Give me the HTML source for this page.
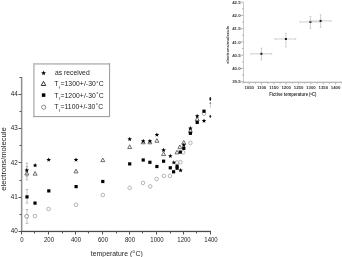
<!DOCTYPE html>
<html><head><meta charset="utf-8"><style>
html,body{margin:0;padding:0;background:#fff;width:342px;height:257px;overflow:hidden}
svg{display:block;will-change:transform}
text{font-family:"Liberation Sans", sans-serif;fill:#222}
.tk{font-size:6px}
.at{font-size:6.9px}
.at2{font-size:7.6px}
.lg{font-size:6.8px}
.it{font-size:4.3px;font-weight:bold;fill:#333}
.ib{font-size:4.2px;font-weight:bold;fill:#333}
</style></head><body>
<svg width="342" height="257" viewBox="0 0 342 257">
<rect x="20.9" y="77" width="1.5" height="155" fill="#909090"/>
<rect x="21" y="230.8" width="190" height="1.3" fill="#4a4a4a"/>
<line x1="18.5" y1="231.5" x2="21.5" y2="231.5" stroke="#555"/>
<text x="17.8" y="233.1" text-anchor="end" class="tk" style="font-size:6.3px">40</text>
<line x1="19.5" y1="214.5" x2="21.5" y2="214.5" stroke="#555"/>
<line x1="18.5" y1="197.5" x2="21.5" y2="197.5" stroke="#555"/>
<text x="17.8" y="198.8" text-anchor="end" class="tk" style="font-size:6.3px">41</text>
<line x1="19.5" y1="180.5" x2="21.5" y2="180.5" stroke="#555"/>
<line x1="18.5" y1="162.5" x2="21.5" y2="162.5" stroke="#555"/>
<text x="17.8" y="164.6" text-anchor="end" class="tk" style="font-size:6.3px">42</text>
<line x1="19.5" y1="145.5" x2="21.5" y2="145.5" stroke="#555"/>
<line x1="18.5" y1="128.5" x2="21.5" y2="128.5" stroke="#555"/>
<text x="17.8" y="130.3" text-anchor="end" class="tk" style="font-size:6.3px">43</text>
<line x1="19.5" y1="111.5" x2="21.5" y2="111.5" stroke="#555"/>
<line x1="18.5" y1="94.5" x2="21.5" y2="94.5" stroke="#555"/>
<text x="17.8" y="96.1" text-anchor="end" class="tk" style="font-size:6.3px">44</text>
<line x1="19.5" y1="77.5" x2="21.5" y2="77.5" stroke="#555"/>
<line x1="21.5" y1="231.5" x2="21.5" y2="234.5" stroke="#555"/>
<text transform="translate(22.0,241.9) scale(1,1.18)" text-anchor="middle" class="tk">0</text>
<line x1="34.5" y1="231.5" x2="34.5" y2="233.5" stroke="#555"/>
<line x1="48.5" y1="231.5" x2="48.5" y2="234.5" stroke="#555"/>
<text transform="translate(49.0,241.9) scale(1,1.18)" text-anchor="middle" class="tk">200</text>
<line x1="62.5" y1="231.5" x2="62.5" y2="233.5" stroke="#555"/>
<line x1="75.5" y1="231.5" x2="75.5" y2="234.5" stroke="#555"/>
<text transform="translate(76.0,241.9) scale(1,1.18)" text-anchor="middle" class="tk">400</text>
<line x1="88.5" y1="231.5" x2="88.5" y2="233.5" stroke="#555"/>
<line x1="102.5" y1="231.5" x2="102.5" y2="234.5" stroke="#555"/>
<text transform="translate(103.0,241.9) scale(1,1.18)" text-anchor="middle" class="tk">600</text>
<line x1="116.5" y1="231.5" x2="116.5" y2="233.5" stroke="#555"/>
<line x1="129.5" y1="231.5" x2="129.5" y2="234.5" stroke="#555"/>
<text transform="translate(130.0,241.9) scale(1,1.18)" text-anchor="middle" class="tk">800</text>
<line x1="142.5" y1="231.5" x2="142.5" y2="233.5" stroke="#555"/>
<line x1="156.5" y1="231.5" x2="156.5" y2="234.5" stroke="#555"/>
<text transform="translate(157.0,241.9) scale(1,1.18)" text-anchor="middle" class="tk">1000</text>
<line x1="170.5" y1="231.5" x2="170.5" y2="233.5" stroke="#555"/>
<line x1="183.5" y1="231.5" x2="183.5" y2="234.5" stroke="#555"/>
<text transform="translate(184.0,241.9) scale(1,1.18)" text-anchor="middle" class="tk">1200</text>
<line x1="196.5" y1="231.5" x2="196.5" y2="233.5" stroke="#555"/>
<line x1="210.5" y1="231.5" x2="210.5" y2="234.5" stroke="#555"/>
<text transform="translate(211.0,241.9) scale(1,1.18)" text-anchor="middle" class="tk">1400</text>
<text transform="translate(90.8,255.6) scale(1,1.1)" class="at">temperature (<tspan dx="0.2" dy="-2.6" font-size="4.2">o</tspan><tspan dx="0.7" dy="2.6">C)</tspan></text>
<text transform="translate(5.6,159.0) rotate(-90)" text-anchor="middle" class="at2">electrons/molecule</text>
<line x1="26.9" y1="163.2" x2="26.9" y2="176.8" stroke="#b0b0b0" stroke-width="0.7"/><line x1="25.599999999999998" y1="163.2" x2="28.2" y2="163.2" stroke="#b0b0b0" stroke-width="0.9"/><line x1="25.599999999999998" y1="176.8" x2="28.2" y2="176.8" stroke="#b0b0b0" stroke-width="0.9"/>
<line x1="26.9" y1="166.4" x2="26.9" y2="179.8" stroke="#b0b0b0" stroke-width="0.7"/><line x1="25.599999999999998" y1="166.4" x2="28.2" y2="166.4" stroke="#b0b0b0" stroke-width="0.9"/><line x1="25.599999999999998" y1="179.8" x2="28.2" y2="179.8" stroke="#b0b0b0" stroke-width="0.9"/>
<line x1="27.0" y1="189.4" x2="27.0" y2="203.0" stroke="#b0b0b0" stroke-width="0.7"/><line x1="25.7" y1="189.4" x2="28.3" y2="189.4" stroke="#b0b0b0" stroke-width="0.9"/><line x1="25.7" y1="203.0" x2="28.3" y2="203.0" stroke="#b0b0b0" stroke-width="0.9"/>
<line x1="27.0" y1="209.6" x2="27.0" y2="223.3" stroke="#b0b0b0" stroke-width="0.7"/><line x1="25.7" y1="209.6" x2="28.3" y2="209.6" stroke="#b0b0b0" stroke-width="0.9"/><line x1="25.7" y1="223.3" x2="28.3" y2="223.3" stroke="#b0b0b0" stroke-width="0.9"/>
<circle cx="35.00" cy="216.10" r="1.8" fill="none" stroke="#a8a8a8" stroke-width="0.85"/>
<circle cx="48.60" cy="209.00" r="1.8" fill="none" stroke="#a8a8a8" stroke-width="0.85"/>
<circle cx="76.10" cy="204.80" r="1.8" fill="none" stroke="#a8a8a8" stroke-width="0.85"/>
<circle cx="102.80" cy="195.00" r="1.8" fill="none" stroke="#a8a8a8" stroke-width="0.85"/>
<circle cx="129.70" cy="187.80" r="1.8" fill="none" stroke="#a8a8a8" stroke-width="0.85"/>
<circle cx="143.00" cy="182.90" r="1.8" fill="none" stroke="#a8a8a8" stroke-width="0.85"/>
<circle cx="150.20" cy="186.40" r="1.8" fill="none" stroke="#a8a8a8" stroke-width="0.85"/>
<circle cx="156.60" cy="179.00" r="1.8" fill="none" stroke="#a8a8a8" stroke-width="0.85"/>
<circle cx="163.80" cy="175.90" r="1.8" fill="none" stroke="#a8a8a8" stroke-width="0.85"/>
<circle cx="169.90" cy="175.90" r="1.8" fill="none" stroke="#a8a8a8" stroke-width="0.85"/>
<circle cx="177.10" cy="162.50" r="1.8" fill="none" stroke="#a8a8a8" stroke-width="0.85"/>
<circle cx="180.40" cy="162.20" r="1.8" fill="none" stroke="#a8a8a8" stroke-width="0.85"/>
<circle cx="183.20" cy="152.40" r="1.8" fill="none" stroke="#a8a8a8" stroke-width="0.85"/>
<circle cx="190.40" cy="142.90" r="1.8" fill="none" stroke="#a8a8a8" stroke-width="0.85"/>
<circle cx="204.00" cy="113.80" r="1.8" fill="none" stroke="#a8a8a8" stroke-width="0.85"/>
<circle cx="26.7" cy="216.3" r="1.9" fill="#fff" stroke="#888" stroke-width="0.9"/>
<polygon points="26.80,171.30 28.80,174.97 24.80,174.97" fill="none" stroke="#555" stroke-width="0.85"/>
<polygon points="35.10,171.50 37.09,175.17 33.11,175.17" fill="none" stroke="#555" stroke-width="0.85"/>
<polygon points="76.00,169.20 78.00,172.88 74.00,172.88" fill="none" stroke="#555" stroke-width="0.85"/>
<polygon points="102.80,158.00 104.80,161.67 100.80,161.67" fill="none" stroke="#555" stroke-width="0.85"/>
<polygon points="129.70,144.80 131.69,148.47 127.70,148.47" fill="none" stroke="#555" stroke-width="0.85"/>
<polygon points="143.20,140.10 145.19,143.77 141.20,143.77" fill="none" stroke="#555" stroke-width="0.85"/>
<polygon points="149.90,140.10 151.90,143.77 147.91,143.77" fill="none" stroke="#555" stroke-width="0.85"/>
<polygon points="156.90,138.60 158.90,142.27 154.91,142.27" fill="none" stroke="#555" stroke-width="0.85"/>
<polygon points="163.60,151.90 165.59,155.57 161.60,155.57" fill="none" stroke="#555" stroke-width="0.85"/>
<polygon points="177.00,150.20 179.00,153.88 175.00,153.88" fill="none" stroke="#555" stroke-width="0.85"/>
<polygon points="179.90,145.00 181.90,148.67 177.91,148.67" fill="none" stroke="#555" stroke-width="0.85"/>
<polygon points="183.80,140.40 185.80,144.07 181.81,144.07" fill="none" stroke="#555" stroke-width="0.85"/>
<polygon points="190.40,128.50 192.40,132.17 188.41,132.17" fill="none" stroke="#555" stroke-width="0.85"/>
<polygon points="197.20,117.10 199.19,120.78 195.20,120.78" fill="none" stroke="#555" stroke-width="0.85"/>
<rect x="25.40" y="195.30" width="3.2" height="3.2" fill="#000"/>
<rect x="33.40" y="201.50" width="3.2" height="3.2" fill="#000"/>
<rect x="47.20" y="189.30" width="3.2" height="3.2" fill="#000"/>
<rect x="74.50" y="185.00" width="3.2" height="3.2" fill="#000"/>
<rect x="101.20" y="179.90" width="3.2" height="3.2" fill="#000"/>
<rect x="128.10" y="162.30" width="3.2" height="3.2" fill="#000"/>
<rect x="141.60" y="158.40" width="3.2" height="3.2" fill="#000"/>
<rect x="148.30" y="160.70" width="3.2" height="3.2" fill="#000"/>
<rect x="155.30" y="164.90" width="3.2" height="3.2" fill="#000"/>
<rect x="162.00" y="159.60" width="3.2" height="3.2" fill="#000"/>
<rect x="168.70" y="166.20" width="3.2" height="3.2" fill="#000"/>
<rect x="172.00" y="170.20" width="3.2" height="3.2" fill="#000"/>
<rect x="175.50" y="164.60" width="3.2" height="3.2" fill="#000"/>
<rect x="175.50" y="166.60" width="3.2" height="3.2" fill="#000"/>
<rect x="178.70" y="150.50" width="3.2" height="3.2" fill="#000"/>
<rect x="182.20" y="146.70" width="3.2" height="3.2" fill="#000"/>
<rect x="188.80" y="131.70" width="3.2" height="3.2" fill="#000"/>
<rect x="195.60" y="120.80" width="3.2" height="3.2" fill="#000"/>
<rect x="202.40" y="109.60" width="3.2" height="3.2" fill="#000"/>
<polygon points="26.80,167.95 27.42,169.44 29.03,169.57 27.81,170.63 28.18,172.20 26.80,171.36 25.42,172.20 25.79,170.63 24.57,169.57 26.18,169.44" fill="#000"/>
<polygon points="35.10,163.05 35.72,164.54 37.33,164.67 36.11,165.73 36.48,167.30 35.10,166.46 33.72,167.30 34.09,165.73 32.87,164.67 34.48,164.54" fill="#000"/>
<polygon points="48.70,157.45 49.32,158.94 50.93,159.07 49.71,160.13 50.08,161.70 48.70,160.86 47.32,161.70 47.69,160.13 46.47,159.07 48.08,158.94" fill="#000"/>
<polygon points="76.00,157.45 76.62,158.94 78.23,159.07 77.01,160.13 77.38,161.70 76.00,160.86 74.62,161.70 74.99,160.13 73.77,159.07 75.38,158.94" fill="#000"/>
<polygon points="129.70,136.85 130.32,138.34 131.93,138.47 130.71,139.53 131.08,141.10 129.70,140.26 128.32,141.10 128.69,139.53 127.47,138.47 129.08,138.34" fill="#000"/>
<polygon points="143.20,138.85 143.82,140.34 145.43,140.47 144.21,141.53 144.58,143.10 143.20,142.26 141.82,143.10 142.19,141.53 140.97,140.47 142.58,140.34" fill="#000"/>
<polygon points="149.90,138.85 150.52,140.34 152.13,140.47 150.91,141.53 151.28,143.10 149.90,142.26 148.52,143.10 148.89,141.53 147.67,140.47 149.28,140.34" fill="#000"/>
<polygon points="156.90,132.45 157.52,133.94 159.13,134.07 157.91,135.13 158.28,136.70 156.90,135.86 155.52,136.70 155.89,135.13 154.67,134.07 156.28,133.94" fill="#000"/>
<polygon points="163.60,147.85 164.22,149.34 165.83,149.47 164.61,150.53 164.98,152.10 163.60,151.26 162.22,152.10 162.59,150.53 161.37,149.47 162.98,149.34" fill="#000"/>
<polygon points="170.30,153.65 170.92,155.14 172.53,155.27 171.31,156.33 171.68,157.90 170.30,157.06 168.92,157.90 169.29,156.33 168.07,155.27 169.68,155.14" fill="#000"/>
<polygon points="173.80,160.15 174.42,161.64 176.03,161.77 174.81,162.83 175.18,164.40 173.80,163.56 172.42,164.40 172.79,162.83 171.57,161.77 173.18,161.64" fill="#000"/>
<polygon points="180.60,168.05 181.22,169.54 182.83,169.67 181.61,170.73 181.98,172.30 180.60,171.46 179.22,172.30 179.59,170.73 178.37,169.67 179.98,169.54" fill="#000"/>
<polygon points="183.80,142.85 184.42,144.34 186.03,144.47 184.81,145.53 185.18,147.10 183.80,146.26 182.42,147.10 182.79,145.53 181.57,144.47 183.18,144.34" fill="#000"/>
<polygon points="190.40,126.05 191.02,127.54 192.63,127.67 191.41,128.73 191.78,130.30 190.40,129.46 189.02,130.30 189.39,128.73 188.17,127.67 189.78,127.54" fill="#000"/>
<polygon points="197.20,113.85 197.82,115.34 199.43,115.47 198.21,116.53 198.58,118.10 197.20,117.26 195.82,118.10 196.19,116.53 194.97,115.47 196.58,115.34" fill="#000"/>
<polygon points="204.00,118.55 204.62,120.04 206.23,120.17 205.01,121.23 205.38,122.80 204.00,121.96 202.62,122.80 202.99,121.23 201.77,120.17 203.38,120.04" fill="#000"/>
<ellipse cx="210.3" cy="98.9" rx="0.9" ry="1.9" fill="#111"/>
<ellipse cx="210.3" cy="103.2" rx="0.8" ry="0.9" fill="#777"/>
<line x1="210.3" y1="104" x2="210.3" y2="108" stroke="#ccc" stroke-width="1"/>
<ellipse cx="210.3" cy="116.4" rx="0.9" ry="1.4" fill="#222"/>
<rect x="33" y="63" width="77" height="1.8" fill="#c4c4c4"/>
<rect x="33" y="63" width="1.8" height="54" fill="#c4c4c4"/>
<rect x="109" y="63" width="1.1" height="54" fill="#a0a0a0"/>
<rect x="33" y="116" width="77" height="1.1" fill="#a0a0a0"/>
<polygon points="43.60,70.60 44.26,72.19 45.98,72.33 44.67,73.45 45.07,75.12 43.60,74.22 42.13,75.12 42.53,73.45 41.22,72.33 42.94,72.19" fill="#000"/>
<polygon points="43.50,81.30 45.78,85.50 41.22,85.50" fill="none" stroke="#333" stroke-width="1.0"/>
<rect x="41.85" y="93.35" width="3.5" height="3.5" fill="#000"/>
<circle cx="43.70" cy="107.20" r="2.1" fill="none" stroke="#888" stroke-width="1.0"/>
<text transform="translate(55.0,75.3) scale(1,1.1)" class="lg">as received</text>
<text x="54.3" y="86.2" class="lg">T<tspan dx="0.2" dy="2.8" font-size="3.8">f</tspan><tspan dx="0.9" dy="-2.8">=1300+</tspan><tspan dx="0.3">/-</tspan><tspan dx="0.1">30</tspan><tspan dx="0.4" dy="-1.6" font-size="5.6">°</tspan><tspan dx="0.3" dy="1.6">C</tspan></text>
<text x="54.3" y="97.6" class="lg">T<tspan dx="0.2" dy="2.8" font-size="3.8">f</tspan><tspan dx="0.9" dy="-2.8">=1200+</tspan><tspan dx="0.3">/-</tspan><tspan dx="0.1">30</tspan><tspan dx="0.4" dy="-1.6" font-size="5.6">°</tspan><tspan dx="0.3" dy="1.6">C</tspan></text>
<text x="54.3" y="108.89999999999999" class="lg">T<tspan dx="0.2" dy="2.8" font-size="3.8">f</tspan><tspan dx="0.9" dy="-2.8">=1100+</tspan><tspan dx="0.3">/-</tspan><tspan dx="0.1">30</tspan><tspan dx="0.4" dy="-1.6" font-size="5.6">°</tspan><tspan dx="0.3" dy="1.6">C</tspan></text>
<line x1="243.5" y1="2.2" x2="243.5" y2="82.5" stroke="#c8c8c8"/>
<line x1="243" y1="82.3" x2="342" y2="82.3" stroke="#a4a4a4" stroke-width="1.1"/>
<line x1="240.5" y1="81.7" x2="243.5" y2="81.7" stroke="#a4a4a4" stroke-width="0.8"/>
<text x="240.6" y="83.3" text-anchor="end" class="it">39.5</text>
<line x1="242.0" y1="75.1" x2="243.5" y2="75.1" stroke="#a4a4a4" stroke-width="0.8"/>
<line x1="240.5" y1="68.4" x2="243.5" y2="68.4" stroke="#a4a4a4" stroke-width="0.8"/>
<text x="240.6" y="70.0" text-anchor="end" class="it">40.0</text>
<line x1="242.0" y1="61.8" x2="243.5" y2="61.8" stroke="#a4a4a4" stroke-width="0.8"/>
<line x1="240.5" y1="55.2" x2="243.5" y2="55.2" stroke="#a4a4a4" stroke-width="0.8"/>
<text x="240.6" y="56.8" text-anchor="end" class="it">40.5</text>
<line x1="242.0" y1="48.5" x2="243.5" y2="48.5" stroke="#a4a4a4" stroke-width="0.8"/>
<line x1="240.5" y1="41.9" x2="243.5" y2="41.9" stroke="#a4a4a4" stroke-width="0.8"/>
<text x="240.6" y="43.5" text-anchor="end" class="it">41.0</text>
<line x1="242.0" y1="35.3" x2="243.5" y2="35.3" stroke="#a4a4a4" stroke-width="0.8"/>
<line x1="240.5" y1="28.6" x2="243.5" y2="28.6" stroke="#a4a4a4" stroke-width="0.8"/>
<text x="240.6" y="30.2" text-anchor="end" class="it">41.5</text>
<line x1="242.0" y1="22.0" x2="243.5" y2="22.0" stroke="#a4a4a4" stroke-width="0.8"/>
<line x1="240.5" y1="15.4" x2="243.5" y2="15.4" stroke="#a4a4a4" stroke-width="0.8"/>
<text x="240.6" y="17.0" text-anchor="end" class="it">42.0</text>
<line x1="242.0" y1="8.7" x2="243.5" y2="8.7" stroke="#a4a4a4" stroke-width="0.8"/>
<line x1="240.5" y1="2.1" x2="243.5" y2="2.1" stroke="#a4a4a4" stroke-width="0.8"/>
<text x="240.6" y="3.7" text-anchor="end" class="it">42.5</text>
<line x1="243.0" y1="82.5" x2="243.0" y2="83.7" stroke="#a4a4a4" stroke-width="0.8"/>
<line x1="249.2" y1="82.5" x2="249.2" y2="84.5" stroke="#a4a4a4" stroke-width="0.8"/>
<text x="249.2" y="88.9" text-anchor="middle" class="it">1050</text>
<line x1="255.4" y1="82.5" x2="255.4" y2="83.7" stroke="#a4a4a4" stroke-width="0.8"/>
<line x1="261.6" y1="82.5" x2="261.6" y2="84.5" stroke="#a4a4a4" stroke-width="0.8"/>
<text x="261.6" y="88.9" text-anchor="middle" class="it">1100</text>
<line x1="267.7" y1="82.5" x2="267.7" y2="83.7" stroke="#a4a4a4" stroke-width="0.8"/>
<line x1="273.9" y1="82.5" x2="273.9" y2="84.5" stroke="#a4a4a4" stroke-width="0.8"/>
<text x="273.9" y="88.9" text-anchor="middle" class="it">1150</text>
<line x1="280.1" y1="82.5" x2="280.1" y2="83.7" stroke="#a4a4a4" stroke-width="0.8"/>
<line x1="286.2" y1="82.5" x2="286.2" y2="84.5" stroke="#a4a4a4" stroke-width="0.8"/>
<text x="286.2" y="88.9" text-anchor="middle" class="it">1200</text>
<line x1="292.4" y1="82.5" x2="292.4" y2="83.7" stroke="#a4a4a4" stroke-width="0.8"/>
<line x1="298.6" y1="82.5" x2="298.6" y2="84.5" stroke="#a4a4a4" stroke-width="0.8"/>
<text x="298.6" y="88.9" text-anchor="middle" class="it">1250</text>
<line x1="304.8" y1="82.5" x2="304.8" y2="83.7" stroke="#a4a4a4" stroke-width="0.8"/>
<line x1="310.9" y1="82.5" x2="310.9" y2="84.5" stroke="#a4a4a4" stroke-width="0.8"/>
<text x="310.9" y="88.9" text-anchor="middle" class="it">1300</text>
<line x1="317.1" y1="82.5" x2="317.1" y2="83.7" stroke="#a4a4a4" stroke-width="0.8"/>
<line x1="323.3" y1="82.5" x2="323.3" y2="84.5" stroke="#a4a4a4" stroke-width="0.8"/>
<text x="323.3" y="88.9" text-anchor="middle" class="it">1350</text>
<line x1="329.5" y1="82.5" x2="329.5" y2="83.7" stroke="#a4a4a4" stroke-width="0.8"/>
<line x1="335.6" y1="82.5" x2="335.6" y2="84.5" stroke="#a4a4a4" stroke-width="0.8"/>
<text x="335.6" y="88.9" text-anchor="middle" class="it">1400</text>
<line x1="341.8" y1="82.5" x2="341.8" y2="83.7" stroke="#a4a4a4" stroke-width="0.8"/>
<text transform="translate(269.3,96.3) scale(1,1.15)" class="ib">Fictive temperature (<tspan dy="-1.5" font-size="2.5">o</tspan><tspan dy="1.5">C)</tspan></text>
<text transform="translate(229.4,44.8) rotate(-90)" text-anchor="middle" class="ib">electrons/molecule</text>
<line x1="251.1" y1="53.8" x2="271.7" y2="53.8" stroke="#c4c4c4" stroke-width="0.8"/><line x1="261.4" y1="48.2" x2="261.4" y2="59.9" stroke="#c4c4c4" stroke-width="0.8"/><line x1="260.4" y1="48.2" x2="262.4" y2="48.2" stroke="#c4c4c4" stroke-width="0.7"/><line x1="260.4" y1="59.9" x2="262.4" y2="59.9" stroke="#c4c4c4" stroke-width="0.7"/><line x1="251.1" y1="52.8" x2="251.1" y2="54.8" stroke="#c4c4c4" stroke-width="0.7"/><line x1="271.7" y1="52.8" x2="271.7" y2="54.8" stroke="#c4c4c4" stroke-width="0.7"/><rect x="260.40" y="52.80" width="2.0" height="2.0" fill="#1a1a1a"/>
<line x1="275.1" y1="39.0" x2="295.7" y2="39.0" stroke="#c4c4c4" stroke-width="0.8"/><line x1="285.9" y1="33.3" x2="285.9" y2="46.9" stroke="#c4c4c4" stroke-width="0.8"/><line x1="284.9" y1="33.3" x2="286.9" y2="33.3" stroke="#c4c4c4" stroke-width="0.7"/><line x1="284.9" y1="46.9" x2="286.9" y2="46.9" stroke="#c4c4c4" stroke-width="0.7"/><line x1="275.1" y1="38.0" x2="275.1" y2="40.0" stroke="#c4c4c4" stroke-width="0.7"/><line x1="295.7" y1="38.0" x2="295.7" y2="40.0" stroke="#c4c4c4" stroke-width="0.7"/><rect x="284.90" y="38.00" width="2.0" height="2.0" fill="#1a1a1a"/>
<line x1="300.1" y1="21.9" x2="320.7" y2="21.9" stroke="#c4c4c4" stroke-width="0.8"/><line x1="310.4" y1="16.4" x2="310.4" y2="28.7" stroke="#c4c4c4" stroke-width="0.8"/><line x1="309.4" y1="16.4" x2="311.4" y2="16.4" stroke="#c4c4c4" stroke-width="0.7"/><line x1="309.4" y1="28.7" x2="311.4" y2="28.7" stroke="#c4c4c4" stroke-width="0.7"/><line x1="300.1" y1="20.9" x2="300.1" y2="22.9" stroke="#c4c4c4" stroke-width="0.7"/><line x1="320.7" y1="20.9" x2="320.7" y2="22.9" stroke="#c4c4c4" stroke-width="0.7"/><rect x="309.40" y="20.90" width="2.0" height="2.0" fill="#1a1a1a"/>
<line x1="310.3" y1="20.9" x2="331.0" y2="20.9" stroke="#c4c4c4" stroke-width="0.8"/><line x1="320.6" y1="14.7" x2="320.6" y2="27.5" stroke="#c4c4c4" stroke-width="0.8"/><line x1="319.6" y1="14.7" x2="321.6" y2="14.7" stroke="#c4c4c4" stroke-width="0.7"/><line x1="319.6" y1="27.5" x2="321.6" y2="27.5" stroke="#c4c4c4" stroke-width="0.7"/><line x1="310.3" y1="19.9" x2="310.3" y2="21.9" stroke="#c4c4c4" stroke-width="0.7"/><line x1="331.0" y1="19.9" x2="331.0" y2="21.9" stroke="#c4c4c4" stroke-width="0.7"/><rect x="319.60" y="19.90" width="2.0" height="2.0" fill="#1a1a1a"/>
</svg>
</body></html>
